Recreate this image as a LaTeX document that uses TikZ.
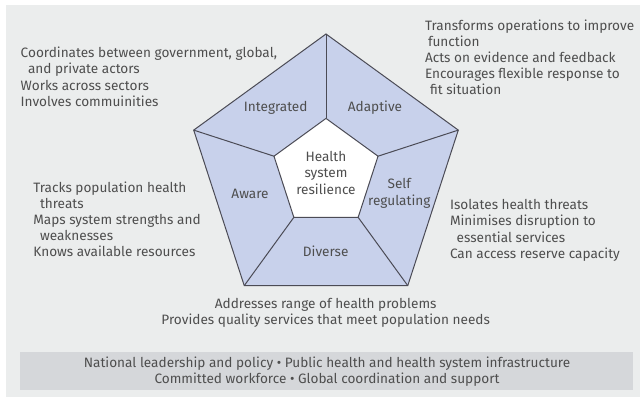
\documentclass[tikz,border=0pt]{standalone}
\usepackage{fontspec}
\setmainfont{Fira Sans}
\definecolor{bgc}{RGB}{235,237,237}
\definecolor{boxc}{RGB}{213,215,218}
\definecolor{penta}{RGB}{200,209,235}
\definecolor{edgec}{RGB}{75,75,85}
\definecolor{txtc}{RGB}{78,78,78}
\begin{document}
\begin{tikzpicture}[x=1pt,y=-1pt,
  txt/.style={inner sep=0pt,outer sep=0pt,text=txtc,font=\fontsize{13.6}{16}\selectfont},
  lft/.style={txt,anchor=base west},
  ctr/.style={txt,anchor=base},
  btm/.style={txt,anchor=base,font=\fontsize{13.6}{15}\selectfont}]
\useasboundingbox (0,0) rectangle (640,399);
\fill[white] (0,0) rectangle (640,399);
\fill[bgc] (6,5) rectangle (640,397);
% pentagon coordinates
\foreach \i/\a in {1/90,2/18,3/-54,4/-126,5/162}{
  \coordinate (o\i) at ({326+139.1*cos(\a)},{173.1-139.1*sin(\a)});
  \coordinate (n\i) at ({326+54.7*cos(\a)},{173.1-54.7*sin(\a)});
}
\filldraw[fill=penta,draw=edgec,line width=1pt,line join=miter] (o1)--(o2)--(o3)--(o4)--(o5)--cycle;
\filldraw[fill=white,draw=edgec,line width=1pt] (n1)--(n2)--(n3)--(n4)--(n5)--cycle;
\foreach \i in {1,...,5}{\draw[edgec,line width=1pt] (n\i)--(o\i);}
% pentagon labels
\node[ctr] (lint) at (275.7,111.3) {Integrated};
\node[ctr] (ladp) at (375,111.3) {Adaptive};
\node[ctr] (lh1) at (326,161.3) {Health};
\node[ctr] (lh2) at (326,177.9) {system};
\node[ctr] (lh3) at (326,194.6) {resilience};
\node[ctr] (laware) at (250,198.6) {Aware};
\node[ctr] (lself) at (399.3,188.9) {Self};
\node[ctr] (lreg) at (399.3,205.6) {regulating};
\node[ctr] (ldiv) at (325.7,256.3) {Diverse};
% top-left block
\node[lft] (a1) at (20.7,57.6) {Coordinates between government, global,};
\node[lft] (a2) at (28,73.9) {and private actors};
\node[lft] (a3) at (20.7,90.2) {Works across sectors};
\node[lft] (a4) at (20.7,106.5) {Involves commuinities};
% top-right block
\node[lft] (b1) at (425,30.6) {Transforms operations to improve};
\node[lft] (b2) at (428,46.4) {function};
\node[lft] (b3) at (425,62.4) {Acts on evidence and feedback};
\node[lft] (b4) at (425,78.4) {Encourages flexible response to};
\node[lft] (b5) at (430,94.6) {fit situation};
% left-middle block
\node[lft] (c1) at (33.3,192) {Tracks population health};
\node[lft] (c2) at (40,208) {threats};
\node[lft] (c3) at (33.3,224.5) {Maps system strengths and};
\node[lft] (c4) at (40,240.5) {weaknesses};
\node[lft] (c5) at (33.3,256.5) {Knows available resources};
% right block
\node[lft] (d1) at (450,209.6) {Isolates health threats};
\node[lft] (d2) at (450,225.6) {Minimises disruption to};
\node[lft] (d3) at (456.7,242) {essential services};
\node[lft] (d4) at (450,258) {Can access reserve capacity};
% bottom centre block
\node[ctr] (e1) at (325.7,308.6) {Addresses range of health problems};
\node[ctr] (e2) at (325.7,324.6) {Provides quality services that meet population needs};
% foundation box
\fill[boxc] (20,351.7) rectangle (633,390);
\node[btm] (f1) at (327,367.3) {National leadership and policy • Public health and health system infrastructure};
\node[btm] (f2) at (327,383.9) {Committed workforce • Global coordination and support};
\end{tikzpicture}
\end{document}
